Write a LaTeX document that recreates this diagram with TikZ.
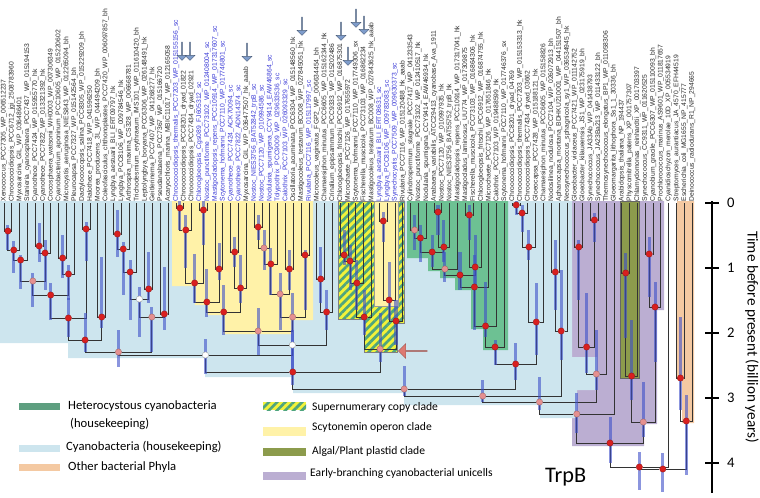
\documentclass[tikz,border=0pt]{standalone}
\usepackage{fontspec}
\setmainfont{Carlito}
\newfontfamily\leaffont{Liberation Sans}
\usepackage{xcolor}
\definecolor{cyanbg}{HTML}{CDE5EE}
\definecolor{scytobg}{HTML}{FFF2A8}
\definecolor{hetbg}{HTML}{6DC193}
\definecolor{hetkey}{HTML}{5E9F80}
\definecolor{unibg}{HTML}{BBAED2}
\definecolor{plastbg}{HTML}{8C9B4C}
\definecolor{otherbg}{HTML}{F4C9A2}
\definecolor{hatchy}{HTML}{F2F23A}
\definecolor{hatchg}{HTML}{4FA57E}
\definecolor{hpdblue}{HTML}{3D4FC8}
\definecolor{postred}{HTML}{D91F1F}
\definecolor{postpink}{HTML}{E59090}
\definecolor{taxblue}{HTML}{3A3AD6}
\definecolor{taxgray}{HTML}{2A2A2A}
\definecolor{pointer}{HTML}{DD7A72}
\definecolor{flag}{HTML}{7E9CCB}
\usepackage{tikz}
\usetikzlibrary{calc,positioning,shapes.arrows,patterns.meta}

\pgfdeclarelayer{regions}
\pgfdeclarelayer{edges}
\pgfdeclarelayer{bars}
\pgfsetlayers{regions,edges,bars,main}

\newcommand{\bluetax}[1]{\textcolor{taxblue}{#1}}

\begin{document}
\begin{tikzpicture}[
  x=0.03cm,y=-0.03cm,
  leaf/.style={rotate=90,anchor=west,inner sep=0pt,text=taxgray,
               font=\leaffont\fontsize{5.75}{6}\selectfont},
  branch/.style={draw=black!80,line width=0.8pt},
  hpd/.style={draw=hpdblue,line width=2.6pt,opacity=0.6},
  pp/.style={circle,fill=postred,draw=postred!70!black,line width=0.3pt,
             inner sep=0pt,minimum size=1.9mm},
  ppmid/.style={pp,fill=postpink,draw=postpink!70!black},
  pplow/.style={pp,fill=white,draw=black!40},
  hatched/.style={preaction={fill=hatchy},
                  pattern={Lines[angle=45,distance=5pt,line width=2.3pt]},
                  pattern color=hatchg},
  legtext/.style={anchor=west,inner sep=0pt,font=\fontsize{10.8}{12}\selectfont},
  keytext/.style={anchor=west,inner sep=0pt,font=\fontsize{9.9}{11}\selectfont},
  axis/.style={line width=2.5pt,black},
  ticklab/.style={anchor=west,inner sep=0pt,font=\fontsize{12.5}{14}\selectfont},
  flagarr/.style={single arrow,shape border rotate=270,fill=flag,draw=flag!60!black,
                  line width=0.3pt,inner sep=0pt,minimum height=0.55cm,
                  minimum width=0.3cm,single arrow head extend=0.06cm},
  pointarr/.style={single arrow,shape border rotate=180,fill=pointer,draw=pointer!70!black,
                   line width=0.3pt,inner sep=0pt,minimum height=0.87cm,
                   minimum width=0.45cm,single arrow head extend=0.09cm}
]
\useasboundingbox (0,0) rectangle (760,497);

% clade backgrounds
\begin{pgfonlayer}{regions}
  \fill[unibg] (572,201) -- (664,201) -- (664,310) -- (657,310) -- (657,424)
    -- (644,424) -- (644,446) -- (572,446) -- cycle;
  \fill[plastbg,draw=black!60,line width=0.4pt] (620,201) rectangle (639,378);
  \fill[otherbg] (677,201) -- (694,201) -- (694,423) -- (682,423) -- (682,380)
    -- (677,380) -- cycle;
  \fill[cyanbg] (0,201) -- (572,201) -- (572,357) -- (597,357) -- (597,390)
    -- (577,390) -- (577,418) -- (540,418) -- (540,405) -- (404,405) -- (404,393)
    -- (293,393) -- (293,377) -- (205,377) -- (205,358) -- (68,358) -- (68,343)
    -- (0,343) -- cycle;
  \fill[scytobg] (172,201) -- (313,201) -- (313,320) -- (293,320) -- (293,334)
    -- (223,334) -- (223,315) -- (207,315) -- (207,305) -- (195,305) -- (195,286)
    -- (172,286) -- cycle;
  \draw[hatched,draw=black!50,line width=0.4pt] (338,201) -- (404,201) -- (404,323)
    -- (397,323) -- (397,352) -- (364,352) -- (364,319) -- (338,319) -- cycle;
  \fill[scytobg,draw=black!40,line width=0.3pt] (374,201) rectangle (398,306);
  \fill[hetbg] (407,201) -- (508,201) -- (508,350) -- (483,350) -- (483,329)
    -- (471,329) -- (471,290) -- (455,290) -- (455,278) -- (440,278) -- (440,271)
    -- (428,271) -- (428,258) -- (407,258) -- cycle;
\end{pgfonlayer}

% taxa
\foreach \tax [count=\i] in {
  Xenococcus\_PCC7305\_WP\_006512237,
  Chroococcidiopsis\_PCC6712\_jgi\_2508783960,
  Myxosarcina\_GIL\_WP\_036486401,
  Stanieria\_cyanosphaera\_PCC7437\_WP\_015194153,
  Cyanothece\_PCC7424\_WP\_015955770\_hk,
  Cyanothece\_PCC7822\_WP\_013321392\_hk,
  Crocosphaera\_watsonii\_WH0003\_WP\_007306349,
  Cyanobacterium\_aponinum\_PCC10605\_WP\_015220602,
  Microcystis\_aeruginosa\_NIES843\_WP\_012265094\_bh,
  Pleurocapsa\_PCC7327\_WP\_015142564\_bh,
  Dactylococcopsis\_salina\_PCC8305\_WP\_015229209\_bh,
  Halothece\_PCC7418\_WP\_041596250,
  Moorea\_producens\_3L\_WP\_044494209\_bh,
  Coleofasciculus\_chthonoplastes\_PCC7420\_WP\_006097857\_bh,
  Lyngbya\_aestuarii\_BLI\_ERT09797\_hk,
  Lyngbya\_PCC8106\_WP\_009784546\_hk,
  Arthrospira\_maxima\_CS328\_WP\_006668781,
  Trichodesmium\_erythraeum\_IMS101\_WP\_011610420\_bh,
  Leptolyngbya\_boryana\_PCC6306\_WP\_026148491\_hk,
  Geitlerinema\_PCC7407\_WP\_041268277\_hk,
  Pseudanabaena\_PCC7367\_WP\_015166720,
  Acaryochloris\_marina\_MBIC11017\_WP\_012165058,
  \bluetax{Chroococcidiopsis\_thermalis\_PCC7203\_WP\_015155156\_sc},
  Chroococcidiopsis\_PCC8201\_dryad\_01822,
  Chroococcidiopsis\_PCC7434\_dryad\_02921,
  \bluetax{Chlorogloeopsis\_Cgs089\_FJ605312\_sc},
  \bluetax{Nostoc\_punctiforme\_PCC73102\_WP\_012408004\_sc},
  \bluetax{Mastigocladopsis\_repens\_PCC10914\_WP\_017317607\_sc},
  \bluetax{Scytonema\_hofmanni\_PCC7110\_WP\_017746801\_sc},
  \bluetax{Cyanothece\_PCC7424\_ACK70094\_sc},
  \bluetax{Cyanothece\_PCC7822\_ADN14374\_sc},
  Myxosarcina\_GIL\_WP\_036477507\_hk\_aaab,
  \bluetax{Nostoc\_NIES3756\_BAT52842\_trpB\_sc},
  \bluetax{Nostoc\_PCC7120\_WP\_010994586\_sc},
  \bluetax{Nodularia\_spumigena\_CCY9414\_EAW46864\_sc},
  \bluetax{Tolypothrix\_PCC9009\_WP\_029633536\_sc},
  \bluetax{Calothrix\_PCC7103\_WP\_026093329\_sc},
  Oscillatoria\_acuminata\_PCC6304\_WP\_015148560\_hk,
  Mastigocoleus\_testarum\_BC008\_WP\_027845051\_hk,
  \bluetax{Rivularia\_PCC7116\_WP\_015117997\_sc},
  Microcoleus\_vaginatus\_FGP2\_WP\_006634454\_bh,
  Chamaesiphon\_minutus\_PCC6605\_WP\_015162344\_hk,
  Crinalium\_epipsammum\_PCC9333\_WP\_015202486,
  Chlorogloeopsis\_fritschii\_PCC6912\_WP\_016875301,
  Microchaete\_PCC7126\_WP\_017655972,
  Scytonema\_hofmanni\_PCC7110\_WP\_017749306\_sx,
  Fischerella\_muscicola\_PCC73103\_WP\_016862234,
  Mastigocoleus\_testarum\_BC008\_WP\_027843625\_hk\_aaab,
  \bluetax{Lyngbya\_aestuarii\_BLI\_ERT08631\_sc},
  \bluetax{Lyngbya\_PCC8106\_WP\_009783083\_sc},
  \bluetax{Synechocystis\_PCC7509\_WP\_009630373\_sc},
  Rivularia\_PCC7116\_WP\_015120488\_hk\_aaab,
  Cylindrospermum\_stagnale\_PCC7417\_WP\_041233543,
  Nostoc\_punctiforme\_PCC73102\_WP\_012410517\_hk,
  Nodularia\_spumigena\_CCY9414\_EAW46934\_hk,
  Anabaena\_variabilis\_ATCC29413\_cyanobase\_Ava\_1911,
  Nostoc\_PCC7120\_WP\_010997935\_hk,
  Nostoc\_NIES3756\_BAT55752\_trpB\_hk,
  Mastigocladopsis\_repens\_PCC10914\_WP\_017317041\_hk,
  Mastigocladus\_laminosus\_UU774\_WP\_017309875,
  Fischerella\_muscicola\_PCC73103\_WP\_016864306\_hk,
  Chlorogloeopsis\_fritschii\_PCC6912\_WP\_016874755\_hk,
  Microchaete\_PCC7126\_WP\_017651846\_hk,
  Calothrix\_PCC7103\_WP\_019488599\_hk,
  Scytonema\_hofmanni\_PCC7110\_WP\_017746376\_sx,
  Chroococcidiopsis\_PCC8201\_dryad\_04769,
  Chroococcidiopsis\_thermalis\_PCC7203\_WP\_015153313\_hk,
  Chroococcidiopsis\_PCC7434\_dryad\_03662,
  Gloeocapsa\_PCC7428\_WP\_015188121\_hk,
  Chamaesiphon\_minutus\_PCC6605\_WP\_015158826,
  Nodosilinea\_nodulosa\_PCC7104\_WP\_026072913\_bh,
  Aphanocapsa\_montana\_BDHKU210001\_WP\_044151507\_bh,
  Neosynechococcus\_sphagnicola\_sy1\_WP\_036534945\_hk,
  Gloeobacter\_violaceus\_PCC7421\_WP\_011142752,
  Gloeobacter\_kilaueensis\_JS1\_WP\_023175919\_bh,
  Synechococcus\_JA33Ab\_WP\_041438793,
  Synechococcus\_JA23Ba213\_WP\_011433122\_bh,
  Thermosynechococcus\_elongatus\_BP1\_WP\_011058306,
  Gloeomargarita\_lithophora\_Ss1\_1\_30336\_bh,
  Arabidopsis\_thaliana\_NP\_194437,
  Physcomitrella\_patens\_XP\_001757307,
  Chlamydomonas\_reinhardtii\_XP\_001703397,
  Synechococcus\_CC9311\_WP\_011620525,
  Cyanobium\_gracile\_PCC6307\_WP\_015110093\_bh,
  Prochlorococcus\_marinus\_AS9601\_WP\_011817657,
  Cyanidioschyzon\_merolae\_10D\_XP\_005534919,
  Streptomyces\_aurantiacus\_JA\_4570\_EFH44519,
  Escherichia\_coli\_MG1655\_NP\_415777,
  Deinococcus\_radiodurans\_R1\_NP\_294665}{
  \coordinate (t\i) at ({4+7.82*(\i-1)},203);
  \node[leaf] (l\i) at ($(t\i)+(0,-1.5)$) {\tax};
}

% internal nodes
\node[pp] (n1) at (7.91,231) {};
\node[pp] (n2) at (13.78,250) {};
\node[pp] (n3) at (20.62,260) {};
\node[pp] (n4) at (39.19,246) {};
\node[pp] (n5) at (45.06,253) {};
\node[ppmid] (n6) at (32.84,281) {};
\node[pp] (n7) at (62.65,258) {};
\node[pp] (n8) at (68.52,274) {};
\node[pp] (n9) at (50.68,295) {};
\node[pp] (n10) at (86.11,229) {};
\node[pp] (n11) at (68.40,318) {};
\node[pp] (n12) at (101.75,317) {};
\node[pp] (n13) at (85.08,340) {};
\node[pp] (n14) at (117.39,234) {};
\node[pp] (n15) at (123.26,249) {};
\node[pp] (n16) at (130.10,272) {};
\node[pp] (n17) at (148.67,289) {};
\node[pplow] (n18) at (139.39,299) {};
\node[pp] (n19) at (164.31,314) {};
\node[ppmid] (n20) at (151.85,317) {};
\node[ppmid] (n21) at (118.47,352) {};
\node[pp] (n22) at (179.95,208) {};
\node[pp] (n23) at (185.82,230) {};
\node[pp] (n24) at (203.41,210) {};
\node[pp] (n25) at (194.62,283) {};
\node[pp] (n26) at (219.05,269) {};
\node[pp] (n27) at (206.84,302) {};
\node[pp] (n28) at (234.69,252) {};
\node[pp] (n29) at (240.56,288) {};
\node[pp] (n30) at (223.70,312) {};
\node[pp] (n31) at (258.15,227) {};
\node[ppmid] (n32) at (264.02,248) {};
\node[pp] (n33) at (270.86,264) {};
\node[pp] (n34) at (289.43,269) {};
\node[ppmid] (n35) at (280.15,294) {};
\node[pp] (n36) at (305.07,255) {};
\node[ppmid] (n37) at (292.61,317) {};
\node[ppmid] (n38) at (258.16,331) {};
\node[pp] (n39) at (320.71,279) {};
\node[pp] (n40) at (326.58,312) {};
\node[pplow] (n41) at (292.37,345) {};
\node[pplow] (n42) at (205.42,355) {};
\node[pp] (n43) at (344.17,255) {};
\node[pp] (n44) at (350.04,261) {};
\node[pp] (n45) at (356.88,283) {};
\node[pp] (n46) at (364.21,317) {};
\node[pp] (n47) at (383.27,221) {};
\node[pp] (n48) at (389.14,300) {};
\node[pp] (n49) at (395.98,321) {};
\node[ppmid] (n50) at (380.10,349) {};
\node[pp] (n51) at (292.76,372) {};
\node[ppmid] (n52) at (414.55,230) {};
\node[pp] (n53) at (420.42,238) {};
\node[pp] (n54) at (438.01,212) {};
\node[pp] (n55) at (443.88,247) {};
\node[pp] (n56) at (432.15,252) {};
\node[ppmid] (n57) at (444.86,269) {};
\node[pp] (n58) at (469.29,215) {};
\node[pp] (n59) at (475.16,267) {};
\node[pp] (n60) at (460.01,275) {};
\node[pp] (n61) at (474.43,287) {};
\node[pp] (n62) at (485.55,326) {};
\node[pp] (n63) at (495.02,347) {};
\node[pp] (n64) at (516.21,205) {};
\node[pp] (n65) at (522.08,213) {};
\node[pp] (n66) at (528.92,247) {};
\node[pp] (n67) at (536.25,322) {};
\node[pp] (n68) at (515.64,364) {};
\node[ppmid] (n69) at (404.20,389) {};
\node[pp] (n70) at (555.31,272) {};
\node[pp] (n71) at (561.18,331) {};
\node[ppmid] (n72) at (482.69,396) {};
\node[pp] (n73) at (578.77,247) {};
\node[pp] (n74) at (594.41,220) {};
\node[pp] (n75) at (586.59,347) {};
\node[ppmid] (n76) at (596.37,374) {};
\node[ppmid] (n77) at (539.53,402) {};
\node[ppmid] (n78) at (576.75,414) {};
\node[pp] (n79) at (625.69,273) {};
\node[pp] (n80) at (631.56,376) {};
\node[pp] (n81) at (649.15,254) {};
\node[pp] (n82) at (655.02,307) {};
\node[ppmid] (n83) at (643.29,422) {};
\node[pp] (n84) at (610.02,443) {};
\node[pp] (n85) at (639.36,467) {};
\node[pp] (n86) at (680.43,378) {};
\node[pp] (n87) at (686.30,421) {};
\node[pp] (n88) at (662.83,469) {};

% branches
\begin{pgfonlayer}{edges}
\foreach \p/\a/\b in {n1/t1/t2, n2/n1/t3, n3/n2/t4, n4/t5/t6, n5/n4/t7, n6/n3/n5,
  n7/t8/t9, n8/n7/t10, n9/n6/n8, n10/t11/t12, n11/n9/n10, n12/t13/t14,
  n13/n11/n12, n14/t15/t16, n15/n14/t17, n16/n15/t18, n17/t19/t20, n18/n16/n17,
  n19/t21/t22, n20/n18/n19, n21/n13/n20, n22/t23/t24, n23/n22/t25, n24/t26/t27,
  n25/n23/n24, n26/t28/t29, n27/n25/n26, n28/t30/t31, n29/n28/t32, n30/n27/n29,
  n31/t33/t34, n32/n31/t35, n33/n32/t36, n34/t37/t38, n35/n33/n34, n36/t39/t40,
  n37/n35/n36, n38/n30/n37, n39/t41/t42, n40/n39/t43, n41/n38/n40, n42/n21/n41,
  n43/t44/t45, n44/n43/t46, n45/n44/t47, n46/n45/t48, n47/t49/t50, n48/n47/t51,
  n49/n48/t52, n50/n46/n49, n51/n42/n50, n52/t53/t54, n53/n52/t55, n54/t56/t57,
  n55/n54/t58, n56/n53/n55, n57/n56/t59, n58/t60/t61, n59/n58/t62, n60/n57/n59,
  n61/n60/t63, n62/n61/t64, n63/n62/t65, n64/t66/t67, n65/n64/t68, n66/n65/t69,
  n67/n66/t70, n68/n63/n67, n69/n51/n68, n70/t71/t72, n71/n70/t73, n72/n69/n71,
  n73/t74/t75, n74/t76/t77, n75/n73/n74, n76/n75/t78, n77/n72/n76, n78/n77/t79,
  n79/t80/t81, n80/n79/t82, n81/t83/t84, n82/n81/t85, n83/n80/n82, n84/n78/n83,
  n85/n84/t86, n86/t87/t88, n87/n86/t89, n88/n85/n87}
  \draw[branch] (\a) |- (\p) -| (\b);
\end{pgfonlayer}

% 95% HPD bars
\begin{pgfonlayer}{bars}
\foreach \p/\u/\d in {n1/6/19, n2/9/23, n3/5/29, n4/23/16, n5/13/37, n6/8/26,
  n7/23/20, n8/9/26, n9/12/25, n10/7/32, n11/20/19, n12/60/11, n13/27/12,
  n14/24/23, n15/7/46, n16/12/48, n17/37/14, n18/12/38, n19/47/16, n20/10/35,
  n21/22/15, n22/7/22, n23/15/38, n24/9/35, n25/29/20, n26/26/11, n27/33/15,
  n28/15/15, n29/33/15, n30/27/23, n31/12/13, n32/18/22, n33/16/31, n34/19/21,
  n35/21/36, n36/5/55, n37/24/30, n38/23/24, n39/32/24, n40/22/18, n41/15/25,
  n42/16/19, n43/25/10, n44/16/29, n45/23/27, n46/27/18, n47/9/21, n48/38/20,
  n49/21/24, n50/36/13, n51/27/13, n52/15/20, n53/13/24, n54/7/23, n55/27/15,
  n56/17/15, n57/17/13, n58/10/25, n59/32/18, n60/23/15, n61/32/43, n62/44/11,
  n63/7/18, n64/4/10, n65/8/19, n66/17/13, n67/39/33, n68/21/16, n69/23/7,
  n70/32/38, n71/61/29, n72/16/6, n73/7/53, n74/7/22, n75/54/26, n76/44/16,
  n77/25/8, n78/21/19, n79/20/65, n80/56/24, n81/17/43, n82/25/55, n83/40/15,
  n84/26/20, n85/15/23, n86/61/32, n87/26/54, n88/16/23}
  \draw[hpd] (\p) ++(0,-\u) -- ++(0,\u+\d);
\end{pgfonlayer}

% marked copies
\node[flagarr] (f1) at (182,51) {};
\node[flagarr] (f2) at (190,51) {};
\node[flagarr] (f3) at (247,52) {};
\node[flagarr] (f4) at (302,26) {};
\node[flagarr] (f5) at (341,31) {};
\node[flagarr] (f6) at (348,56) {};
\node[flagarr] (f7) at (356,18) {};
\node[flagarr] (f8) at (364,25) {};
\node[pointarr] (pointer) at (413,351) {};

% time axis
\coordinate (axtop) at (712,201);
\coordinate (axbot) at (712,493);
\draw[axis] (axtop) -- (axbot);
\foreach \t in {0,...,4}
  \draw[axis] (705,{203+65*\t}) -- (719,{203+65*\t}) node[ticklab,xshift=0.2cm] (tk\t) {\t};
\node[rotate=-90,font=\fontsize{13}{15}\selectfont] (axtitle) at (752,337)
  {Time before present (billion years)};
\node[anchor=west,inner sep=0pt,font=\fontsize{19}{22}\selectfont] (gene) at (545,477) {TrpB};

% legend
\fill[hetkey] (19,403) rectangle (60,410);
\node[legtext] (khet) at (68,406) {Heterocystous cyanobacteria};
\node[legtext] (khet2) at (70,424) {(housekeeping)};
\fill[cyanbg] (19,445) rectangle (60,452);
\node[legtext] (kcyan) at (66,447) {Cyanobacteria (housekeeping)};
\fill[otherbg] (19,464) rectangle (60,471);
\node[legtext] (kother) at (68,467) {Other bacterial Phyla};
\fill[hatched] (263,402) rectangle (306,410);
\node[keytext] (ksup) at (312,407) {Supernumerary copy clade};
\fill[scytobg] (263,427) rectangle (306,436);
\node[keytext] (kscy) at (312,427) {Scytonemin operon clade};
\fill[plastbg] (263,448) rectangle (306,456);
\node[keytext] (kplast) at (312,451) {Algal/Plant plastid clade};
\fill[unibg] (263,472) rectangle (306,480);
\node[keytext] (kuni) at (310,473) {Early-branching cyanobacterial unicells};
\end{tikzpicture}
\end{document}
